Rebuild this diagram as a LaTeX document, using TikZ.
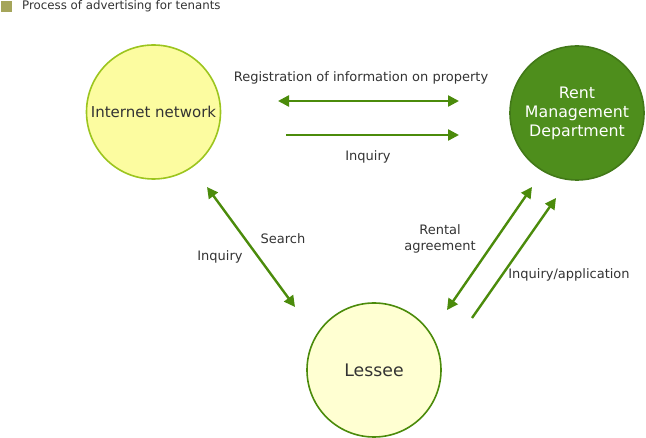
\documentclass[tikz,border=0pt]{standalone}
\usepackage{fontspec}
\setmainfont{DejaVu Sans}
\usepackage{xcolor}
\usetikzlibrary{positioning, arrows.meta}

\definecolor{lineGreen}{HTML}{4B8B0B}
\definecolor{rimYellow}{HTML}{9CC51E}
\definecolor{netFill}{HTML}{FCFCA0}
\definecolor{lessFill}{HTML}{FFFFD2}
\definecolor{rentFill}{HTML}{4E8E1C}
\definecolor{keyOlive}{HTML}{A5A55A}
\definecolor{txtGrey}{HTML}{333333}

\begin{document}
\begin{tikzpicture}[x=1pt, y=-1pt,
          nd/.style={draw=#1, circle, minimum size=134pt, inner sep=0pt, line width=1.6pt, align=center},
          edg/.style={-{Triangle[length=11pt, width=11pt]}, line width=2.4pt, lineGreen},
          dedg/.style={{Triangle[length=11pt, width=11pt]}-{Triangle[length=11pt, width=11pt]}, line width=2.4pt, lineGreen},
          lbl/.style={font=\fontsize{13}{16}\selectfont, text=txtGrey, align=center, inner sep=0pt},
        ]
        \useasboundingbox (0,0) rectangle (646,438);
        % legend
        \node[fill=keyOlive, minimum size=11pt, inner sep=0pt] (key) at (6.5,6.5) {};
        \node[lbl, font=\fontsize{11.8}{14}\selectfont, anchor=west] (title) at (22,6) {Process of advertising for tenants};
        % the three parties
        \node[nd=rimYellow, fill=netFill, text=txtGrey, font=\fontsize{15}{18}\selectfont] (net) at (153.5,112) {Internet network};
        \node[nd=rentFill!85!black, fill=rentFill, text=white, font=\fontsize{15.8}{19}\selectfont] (rent) at (577,113) {Rent\\Management\\Department};
        \node[nd=lineGreen, fill=lessFill, text=txtGrey, font=\fontsize{17.3}{20}\selectfont] (less) at (374,370) {Lessee};
        % arrow ends
        \coordinate (regL) at (278,101);
        \coordinate (regR) at (459,101);
        \coordinate (inqL) at (286,135);
        \coordinate (inqR) at (459,135);
        \coordinate (srchA) at (207,187);
        \coordinate (srchB) at (295,307);
        \coordinate (agrA) at (447,310);
        \coordinate (agrB) at (532,187);
        \coordinate (appA) at (472,318);
        \coordinate (appB) at (556,198);
        \draw[dedg] (regL) -- (regR);
        \draw[edg] (inqL) -- (inqR);
        \draw[dedg] (srchA) -- (srchB);
        \draw[dedg] (agrA) -- (agrB);
        \draw[edg] (appA) -- (appB);
        % labels
        \node[lbl] (regT) at (361,78) {Registration of information on property};
        \node[lbl] (inqT) at (368,157) {Inquiry};
        \node[lbl] (srchT) at (283,239) {Search};
        \node[lbl] (inqT2) at (220,257) {Inquiry};
        \node[lbl] (agrT) at (440,239) {Rental\\agreement};
        \node[lbl] (appT) at (569,275) {Inquiry/application};
        \end{tikzpicture}
\end{document}
